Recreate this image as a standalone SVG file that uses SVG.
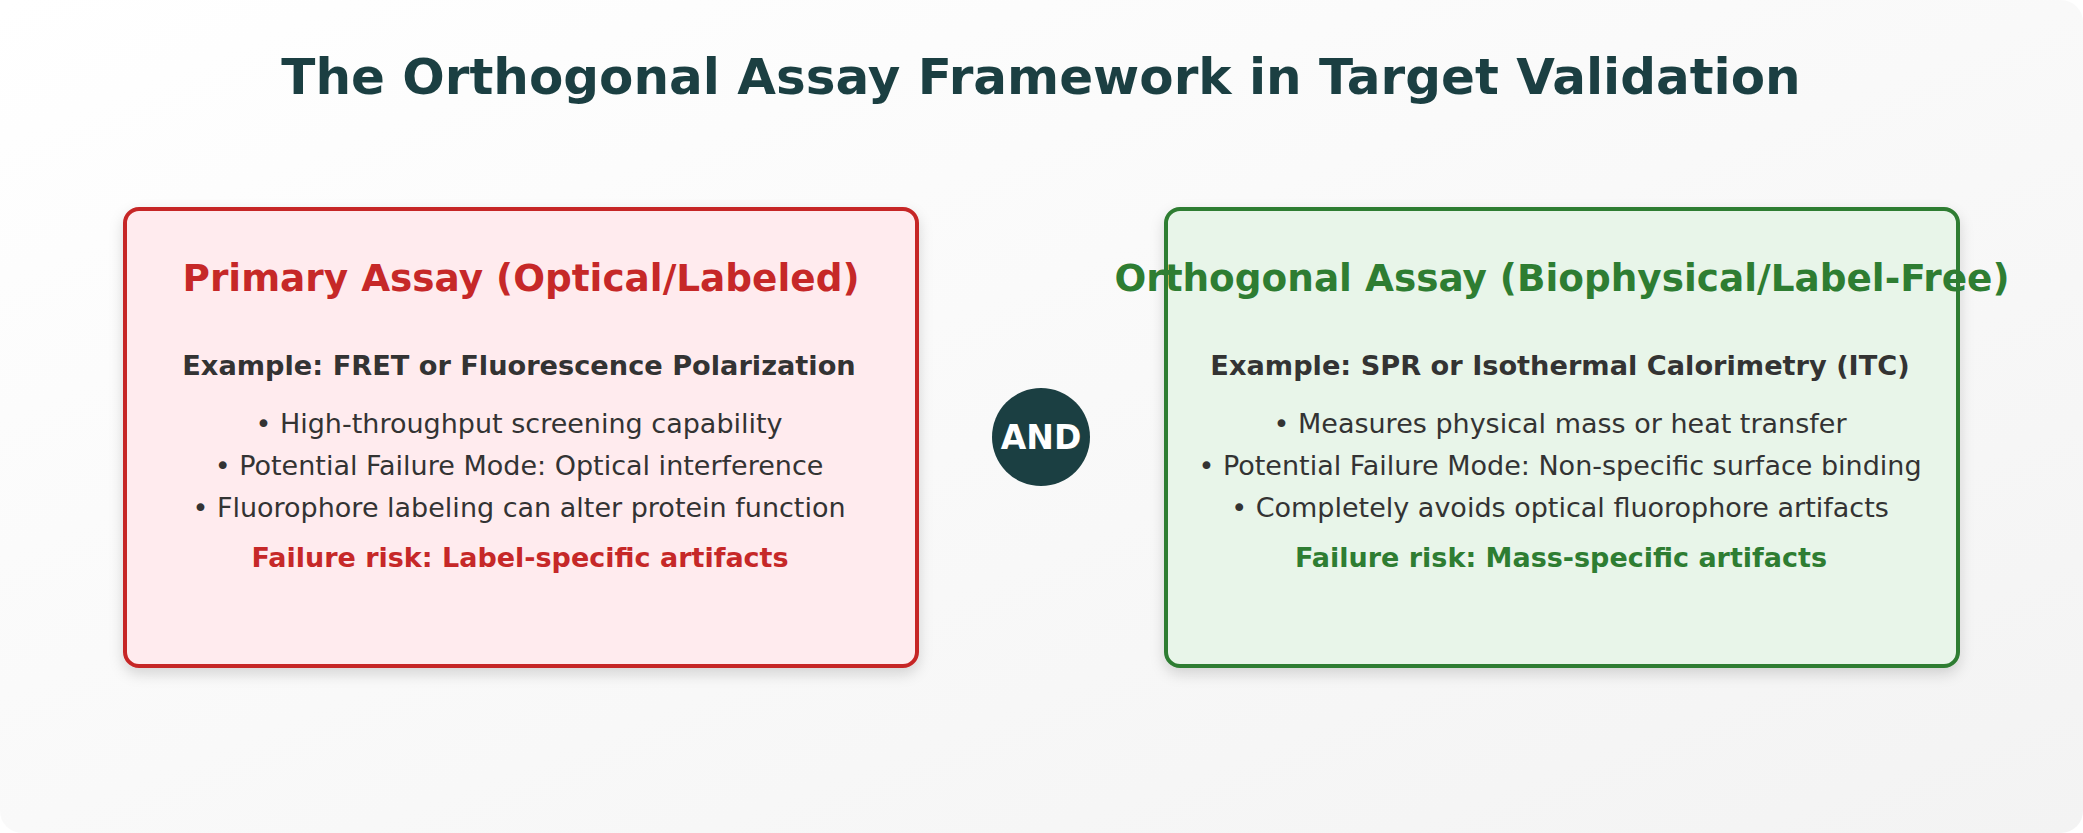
<svg xmlns="http://www.w3.org/2000/svg" width="2083" height="833" viewBox="0 0 2083 833">
<defs>
<linearGradient id="bg" x1="0" y1="0" x2="1" y2="1"><stop offset="0" stop-color="#ffffff"/><stop offset="1" stop-color="#f3f3f3"/></linearGradient>
<filter id="sh" x="-10%" y="-10%" width="120%" height="130%"><feDropShadow dx="0" dy="6" stdDeviation="7" flood-color="#000" flood-opacity="0.15"/></filter>
<style>
text{font-family:"DejaVu Sans",sans-serif;text-anchor:middle}
.t{font-size:50px;font-weight:bold;fill:#1b3f42}
.h{font-size:37.4px;font-weight:bold}
.e{font-size:27.2px;font-weight:bold;fill:#333}
.b{font-size:27px;fill:#333}
.f{font-size:27px;font-weight:bold}
</style>
</defs>
<rect width="2083" height="833" rx="22" fill="url(#bg)"/>
<text class="t" x="1041" y="94">The Orthogonal Assay Framework in Target Validation</text>
<g id="primary">
<rect x="125" y="209" width="792" height="457" rx="14" fill="#ffebee" stroke="#c62828" stroke-width="4" filter="url(#sh)"/>
<text class="h" x="521" y="291" fill="#c62828">Primary Assay (Optical/Labeled)</text>
<text class="e" x="519" y="375">Example: FRET or Fluorescence Polarization</text>
<text class="b" x="519" y="433">• High-throughput screening capability</text>
<text class="b" x="519" y="475">• Potential Failure Mode: Optical interference</text>
<text class="b" x="519" y="517">• Fluorophore labeling can alter protein function</text>
<text class="f" x="520" y="567" fill="#c62828">Failure risk: Label-specific artifacts</text>
</g>
<g id="orthogonal">
<rect x="1166" y="209" width="792" height="457" rx="14" fill="#e8f5e9" stroke="#2e7d32" stroke-width="4" filter="url(#sh)"/>
<text class="h" x="1562" y="291" fill="#2e7d32">Orthogonal Assay (Biophysical/Label-Free)</text>
<text class="e" x="1560" y="375">Example: SPR or Isothermal Calorimetry (ITC)</text>
<text class="b" x="1560" y="433">• Measures physical mass or heat transfer</text>
<text class="b" x="1560" y="475">• Potential Failure Mode: Non-specific surface binding</text>
<text class="b" x="1560" y="517">• Completely avoids optical fluorophore artifacts</text>
<text class="f" x="1561" y="567" fill="#2e7d32">Failure risk: Mass-specific artifacts</text>
</g>
<g id="and">
<circle cx="1041" cy="437" r="49" fill="#1b3f42"/>
<text x="1041" y="449" font-size="33" font-weight="bold" fill="#fff">AND</text>
</g>
<g id="connectors"/>
</svg>
